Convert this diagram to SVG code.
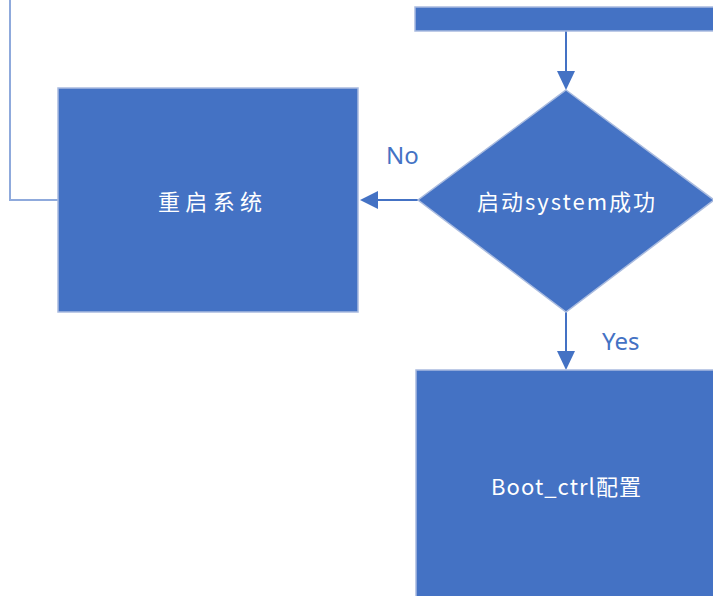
<svg xmlns="http://www.w3.org/2000/svg" width="713" height="596" viewBox="0 0 713 596">
<defs>
<style>
.box{fill:#4472C4;stroke:#A9BBDF;stroke-width:1.5}
.lbl{fill:#ffffff;font-family:"Noto Sans CJK SC","Noto Sans",sans-serif;font-size:22px;text-anchor:middle;dominant-baseline:central}
.yn{fill:#4472C4;font-family:"Noto Sans","Liberation Sans",sans-serif;font-size:24px}
.conn{stroke:#4472C4;stroke-width:2;fill:none}
.head{fill:#4472C4}
</style>
</defs>
<rect width="713" height="596" fill="#ffffff"/>
<g id="connectors">
<polyline points="58,200 10,200 10,0" fill="none" stroke="#8FAADC" stroke-width="2"/>
<line class="conn" x1="566" y1="31" x2="566" y2="73"/>
<path class="head" d="M557,71 L575,71 L566,90 z"/>
<line class="conn" x1="418" y1="200" x2="376" y2="200"/>
<path class="head" d="M378,191 L378,209 L360,200 z"/>
<line class="conn" x1="566" y1="312" x2="566" y2="352"/>
<path class="head" d="M557,351 L575,351 L566,370 z"/>
<text class="yn" x="386" y="164">No</text>
<text class="yn" x="602" y="350">Yes</text>
</g>
<g id="node-top">
<rect class="box" x="415" y="7" width="310" height="24"/>
</g>
<g id="node-restart">
<rect class="box" x="58" y="88" width="300" height="224"/>
<text class="lbl" x="210" y="200" textLength="104" lengthAdjust="spacing">重启系统</text>
</g>
<g id="node-decision">
<polygon class="box" points="566,90 714,200 566,312 418,200"/>
<text class="lbl" x="566" y="200" textLength="178" lengthAdjust="spacing">启动system成功</text>
</g>
<g id="node-bootctrl">
<rect class="box" x="416" y="370" width="310" height="240"/>
<text class="lbl" x="566" y="485" textLength="150" lengthAdjust="spacing">Boot_ctrl配置</text>
</g>
</svg>
